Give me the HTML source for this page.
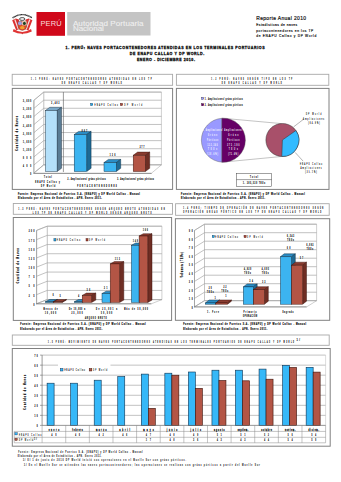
<!DOCTYPE html><html><head><meta charset="utf-8"><style>html,body{margin:0;padding:0;background:#fff;width:341px;height:482px;overflow:hidden}svg{display:block}</style></head><body>
<svg width="341" height="482" viewBox="0 0 341 482" font-family='"Liberation Sans", sans-serif'>
<rect x="0" y="0" width="341" height="482" fill="#fff" />
<g>
<path d="M12.6,17.9 Q22.3,11.3 32.0,17.9" fill="none" stroke="#2a2a2a" stroke-width="1.4" stroke-dasharray="1.0 0.3"/>
<path d="M12.2,20.2 L15.8,18.6 L18.9,19.6 L20.4,28.8 L16.2,30.6 Z" fill="#dc3030"/>
<path d="M14.2,19.7 L15.4,19.3 L19.0,29.2 L17.9,29.8 Z" fill="#f2dede"/>
<path d="M32.4,20.2 L28.8,18.6 L25.7,19.6 L24.2,28.8 L28.4,30.6 Z" fill="#dc3030"/>
<path d="M30.4,19.7 L29.2,19.3 L25.6,29.2 L26.7,29.8 Z" fill="#f2dede"/>
<path d="M13.6,29.0 Q22.3,35.0 31.0,29.0 L31.8,31.4 Q22.3,36.0 12.8,31.4 Z" fill="#e03535"/>
<ellipse cx="22.2" cy="19.0" rx="2.7" ry="1.45" fill="#f2f2f2" stroke="#222" stroke-width="0.75"/>
<path d="M18.0,21.2 L26.6,21.2 L26.6,26.6 Q26.3,30.2 22.3,30.4 Q18.3,30.2 18.0,26.6 Z" fill="#d84a28" stroke="#444" stroke-width="0.3"/>
<ellipse cx="20.0" cy="23.3" rx="2.0" ry="2.0" fill="#9aa0e0"/>
<rect x="22.3" y="21.3" width="4.2" height="4.0" fill="#eef0e0"/>
<ellipse cx="24.4" cy="23.4" rx="1.5" ry="1.6" fill="#1f3f1f"/>
<ellipse cx="22.3" cy="27.7" rx="2.3" ry="1.6" fill="#f0a030"/>
<circle cx="22.3" cy="33.6" r="0.6" fill="#cc2a2a"/>
</g>
<rect x="36.5" y="12" width="28.5" height="23.8" fill="#d0081a" />
<text transform="scale(1.1,1.0)" x="36.82" y="26.30" font-size="6.8" font-weight="normal" fill="#f8dcdc" text-anchor="start" textLength="19.18" lengthAdjust="spacing" >PERÚ</text>
<rect x="67.2" y="12" width="83.3" height="23.5" fill="#c4c4c4" />
<text transform="scale(1.28,1.0)" x="56.95" y="25.60" font-size="6.3" font-weight="normal" fill="#f0f0f0" text-anchor="start" textLength="55.23" lengthAdjust="spacing" stroke="#f0f0f0" stroke-width="0.08" >Autoridad Portuaria</text>
<text transform="scale(1.28,1.0)" x="56.95" y="31.50" font-size="6.3" font-weight="normal" fill="#f0f0f0" text-anchor="start" textLength="24.22" lengthAdjust="spacing" stroke="#f0f0f0" stroke-width="0.08" >Nacional</text>
<text transform="scale(0.8,1.0)" x="320.25" y="20.00" font-size="6.2" font-weight="normal" fill="#111" text-anchor="start" textLength="62.25" lengthAdjust="spacing" stroke="#111" stroke-width="0.22" >Reporte Anual 2010</text>
<text transform="scale(0.9,1.0)" x="284.67" y="26.50" font-size="3.6" font-weight="normal" fill="#000" text-anchor="start" textLength="45.56" lengthAdjust="spacing" stroke="#000" stroke-width="0.14" >Estadísticas de naves</text>
<text transform="scale(0.9,1.0)" x="284.67" y="32.10" font-size="3.6" font-weight="normal" fill="#000" text-anchor="start" textLength="63.33" lengthAdjust="spacing" stroke="#000" stroke-width="0.14" >portacontenedores en los TP</text>
<text transform="scale(0.9,1.0)" x="284.67" y="37.40" font-size="3.6" font-weight="normal" fill="#000" text-anchor="start" textLength="66.67" lengthAdjust="spacing" stroke="#000" stroke-width="0.14" >de ENAPU Callao y DP World</text>
<text transform="scale(0.95,1.0)" x="69.05" y="49.20" font-size="3.8" font-weight="bold" fill="#111" text-anchor="start" textLength="209.47" lengthAdjust="spacing" stroke="#111" stroke-width="0.3" >1. PERÚ: NAVES PORTACONTENEDORES ATENDIDAS EN LOS TERMINALES PORTUARIOS</text>
<text transform="scale(0.95,1.0)" x="136.53" y="55.10" font-size="3.8" font-weight="bold" fill="#111" text-anchor="start" textLength="78.42" lengthAdjust="spacing" stroke="#111" stroke-width="0.3" >DE ENAPU CALLAO Y DP WORLD.</text>
<text transform="scale(0.95,1.0)" x="144.11" y="61.00" font-size="3.8" font-weight="bold" fill="#111" text-anchor="start" textLength="61.05" lengthAdjust="spacing" stroke="#111" stroke-width="0.3" >ENERO - DICIEMBRE 2010.</text>
<rect x="12.2" y="74.3" width="160.4" height="11.0" fill="none" stroke="#a8a8a8" stroke-width="0.9" />
<text transform="scale(0.45,1.0)" x="68.89" y="79.70" font-size="2.8" font-weight="bold" fill="#111" text-anchor="start" textLength="267.78" lengthAdjust="spacing" stroke="#111" stroke-width="0.16" >1.1 PERÚ: NAVES PORTACONTENEDORES ATENDIDAS EN LOS TP</text>
<text transform="scale(0.45,1.0)" x="137.33" y="84.20" font-size="2.8" font-weight="bold" fill="#111" text-anchor="start" textLength="133.11" lengthAdjust="spacing" stroke="#111" stroke-width="0.16" >DE ENAPU CALLAO Y DP WORLD</text>
<rect x="12.3" y="88.4" width="160.29999999999998" height="101.0" fill="none" stroke="#808080" stroke-width="1.0" />
<polygon points="43.7,92.1 161.4,92.1 161.4,164.9 43.7,164.9" fill="#fff" stroke="#a0a0a0" stroke-width="0.5"/>
<polygon points="43.7,92.1 33.900000000000006,100.3 33.900000000000006,173.1 43.7,164.9" fill="#fff" stroke="#a0a0a0" stroke-width="0.5"/>
<polygon points="43.7,164.9 161.4,164.9 151.6,173.1 33.900000000000006,173.1" fill="#fff" stroke="#a0a0a0" stroke-width="0.5"/>
<line x1="43.7" y1="92.1" x2="161.4" y2="92.1" stroke="#a0a0a0" stroke-width="0.65"/>
<line x1="33.900000000000006" y1="100.3" x2="43.7" y2="92.1" stroke="#a0a0a0" stroke-width="0.65"/>
<text transform="scale(0.52,1.0)" x="60.00" y="102.30" font-size="3.0" font-weight="bold" fill="#111" text-anchor="end" textLength="15.96" lengthAdjust="spacing" stroke="#111" stroke-width="0.2" >3,600</text>
<line x1="43.7" y1="100.18888888888888" x2="161.4" y2="100.18888888888888" stroke="#a0a0a0" stroke-width="0.65"/>
<line x1="33.900000000000006" y1="108.38888888888889" x2="43.7" y2="100.18888888888888" stroke="#a0a0a0" stroke-width="0.65"/>
<text transform="scale(0.52,1.0)" x="60.00" y="110.39" font-size="3.0" font-weight="bold" fill="#111" text-anchor="end" textLength="15.96" lengthAdjust="spacing" stroke="#111" stroke-width="0.2" >3,200</text>
<line x1="43.7" y1="108.27777777777777" x2="161.4" y2="108.27777777777777" stroke="#a0a0a0" stroke-width="0.65"/>
<line x1="33.900000000000006" y1="116.47777777777777" x2="43.7" y2="108.27777777777777" stroke="#a0a0a0" stroke-width="0.65"/>
<text transform="scale(0.52,1.0)" x="60.00" y="118.48" font-size="3.0" font-weight="bold" fill="#111" text-anchor="end" textLength="15.96" lengthAdjust="spacing" stroke="#111" stroke-width="0.2" >2,800</text>
<line x1="43.7" y1="116.36666666666666" x2="161.4" y2="116.36666666666666" stroke="#a0a0a0" stroke-width="0.65"/>
<line x1="33.900000000000006" y1="124.56666666666666" x2="43.7" y2="116.36666666666666" stroke="#a0a0a0" stroke-width="0.65"/>
<text transform="scale(0.52,1.0)" x="60.00" y="126.57" font-size="3.0" font-weight="bold" fill="#111" text-anchor="end" textLength="15.96" lengthAdjust="spacing" stroke="#111" stroke-width="0.2" >2,400</text>
<line x1="43.7" y1="124.45555555555555" x2="161.4" y2="124.45555555555555" stroke="#a0a0a0" stroke-width="0.65"/>
<line x1="33.900000000000006" y1="132.65555555555554" x2="43.7" y2="124.45555555555555" stroke="#a0a0a0" stroke-width="0.65"/>
<text transform="scale(0.52,1.0)" x="60.00" y="134.66" font-size="3.0" font-weight="bold" fill="#111" text-anchor="end" textLength="15.96" lengthAdjust="spacing" stroke="#111" stroke-width="0.2" >2,000</text>
<line x1="43.7" y1="132.54444444444445" x2="161.4" y2="132.54444444444445" stroke="#a0a0a0" stroke-width="0.65"/>
<line x1="33.900000000000006" y1="140.74444444444444" x2="43.7" y2="132.54444444444445" stroke="#a0a0a0" stroke-width="0.65"/>
<text transform="scale(0.52,1.0)" x="60.00" y="142.74" font-size="3.0" font-weight="bold" fill="#111" text-anchor="end" textLength="15.96" lengthAdjust="spacing" stroke="#111" stroke-width="0.2" >1,600</text>
<line x1="43.7" y1="140.63333333333333" x2="161.4" y2="140.63333333333333" stroke="#a0a0a0" stroke-width="0.65"/>
<line x1="33.900000000000006" y1="148.83333333333331" x2="43.7" y2="140.63333333333333" stroke="#a0a0a0" stroke-width="0.65"/>
<text transform="scale(0.52,1.0)" x="60.00" y="150.83" font-size="3.0" font-weight="bold" fill="#111" text-anchor="end" textLength="15.96" lengthAdjust="spacing" stroke="#111" stroke-width="0.2" >1,200</text>
<line x1="43.7" y1="148.72222222222223" x2="161.4" y2="148.72222222222223" stroke="#a0a0a0" stroke-width="0.65"/>
<line x1="33.900000000000006" y1="156.92222222222222" x2="43.7" y2="148.72222222222223" stroke="#a0a0a0" stroke-width="0.65"/>
<text transform="scale(0.52,1.0)" x="60.00" y="158.92" font-size="3.0" font-weight="bold" fill="#111" text-anchor="end" textLength="15.96" lengthAdjust="spacing" stroke="#111" stroke-width="0.2" >800</text>
<line x1="43.7" y1="156.81111111111113" x2="161.4" y2="156.81111111111113" stroke="#a0a0a0" stroke-width="0.65"/>
<line x1="33.900000000000006" y1="165.01111111111112" x2="43.7" y2="156.81111111111113" stroke="#a0a0a0" stroke-width="0.65"/>
<text transform="scale(0.52,1.0)" x="60.00" y="167.01" font-size="3.0" font-weight="bold" fill="#111" text-anchor="end" textLength="15.96" lengthAdjust="spacing" stroke="#111" stroke-width="0.2" >400</text>
<line x1="43.7" y1="164.9" x2="161.4" y2="164.9" stroke="#a0a0a0" stroke-width="0.65"/>
<line x1="33.900000000000006" y1="173.1" x2="43.7" y2="164.9" stroke="#a0a0a0" stroke-width="0.65"/>
<text transform="scale(0.52,1.0)" x="60.00" y="175.10" font-size="3.0" font-weight="bold" fill="#111" text-anchor="end" textLength="15.96" lengthAdjust="spacing" stroke="#111" stroke-width="0.2" >0</text>
<line x1="33.900000000000006" y1="100.3" x2="33.900000000000006" y2="173.1" stroke="#888" stroke-width="0.6"/>
<line x1="33.400000000000006" y1="173.5" x2="151.6" y2="173.5" stroke="#666" stroke-width="0.6"/>
<line x1="63.4" y1="92.1" x2="63.4" y2="172" stroke="#555" stroke-width="0.6"/>
<g transform="rotate(-90 17.7 133.5)"><text transform="scale(0.75,1.0)" x="23.60" y="133.50" font-size="2.8" font-weight="bold" fill="#111" text-anchor="middle" textLength="46.27" lengthAdjust="spacing" stroke="#111" stroke-width="0.2" >Cantidad de Naves</text></g>
<rect x="90.6" y="103.4" width="2.2" height="2.2" fill="#2aa6e8" stroke="#0a3a5a" stroke-width="0.4"/>
<text transform="scale(0.52,1.0)" x="181.54" y="105.60" font-size="3.0" font-weight="normal" fill="#111" text-anchor="start" textLength="45.00" lengthAdjust="spacing" stroke="#111" stroke-width="0.15" >ENAPU Callao</text>
<rect x="120.4" y="103.4" width="2.2" height="2.2" fill="#b04a3a" stroke="#3a0a0a" stroke-width="0.4"/>
<text transform="scale(0.52,1.0)" x="238.85" y="105.60" font-size="3.0" font-weight="normal" fill="#111" text-anchor="start" textLength="34.62" lengthAdjust="spacing" stroke="#111" stroke-width="0.15" >DP World</text>
<polygon points="45.4,110.5 49.8,107.3 61.5,107.3 57.1,110.5" fill="#7aa8c8" stroke="#1a3040" stroke-width="0.45"/>
<polygon points="57.1,110.5 61.5,107.3 61.5,168.3 57.1,171.5" fill="#5a7c94" stroke="#1a3040" stroke-width="0.45"/>
<rect x="45.4" y="110.5" width="11.700000000000003" height="61.0" fill="#b4e0fa" stroke="#1a3040" stroke-width="0.45"/>
<polygon points="74.2,134.6 78.60000000000001,131.4 91.10000000000001,131.4 86.7,134.6" fill="#2a8cc4" stroke="#0a2a40" stroke-width="0.45"/>
<polygon points="86.7,134.6 91.10000000000001,131.4 91.10000000000001,168.3 86.7,171.5" fill="#1e6a94" stroke="#0a2a40" stroke-width="0.45"/>
<rect x="74.2" y="134.6" width="12.5" height="36.900000000000006" fill="#3cb4f0" stroke="#0a2a40" stroke-width="0.45"/>
<polygon points="104,162.6 108.4,159.4 120.7,159.4 116.3,162.6" fill="#2a8cc4" stroke="#0a2a40" stroke-width="0.45"/>
<polygon points="116.3,162.6 120.7,159.4 120.7,168.3 116.3,171.5" fill="#1e6a94" stroke="#0a2a40" stroke-width="0.45"/>
<rect x="104" y="162.6" width="12.299999999999997" height="8.900000000000006" fill="#3cb4f0" stroke="#0a2a40" stroke-width="0.45"/>
<polygon points="133.2,155.3 137.6,152.10000000000002 149.70000000000002,152.10000000000002 145.3,155.3" fill="#8a3c30" stroke="#3a1008" stroke-width="0.45"/>
<polygon points="145.3,155.3 149.70000000000002,152.10000000000002 149.70000000000002,168.3 145.3,171.5" fill="#6e2e24" stroke="#3a1008" stroke-width="0.45"/>
<rect x="133.2" y="155.3" width="12.100000000000023" height="16.19999999999999" fill="#b35545" stroke="#3a1008" stroke-width="0.45"/>
<text transform="scale(0.52,1.0)" x="106.35" y="104.00" font-size="2.8" font-weight="bold" fill="#111" text-anchor="middle" textLength="15.38" lengthAdjust="spacing" stroke="#111" stroke-width="0.2" >3,483</text>
<text transform="scale(0.52,1.0)" x="162.31" y="131.60" font-size="2.8" font-weight="bold" fill="#111" text-anchor="middle" textLength="10.19" lengthAdjust="spacing" stroke="#111" stroke-width="0.2" >887</text>
<text transform="scale(0.52,1.0)" x="216.35" y="156.50" font-size="2.8" font-weight="bold" fill="#111" text-anchor="middle" textLength="10.38" lengthAdjust="spacing" stroke="#111" stroke-width="0.2" >136</text>
<text transform="scale(0.52,1.0)" x="273.08" y="147.60" font-size="2.8" font-weight="bold" fill="#111" text-anchor="middle" textLength="8.65" lengthAdjust="spacing" stroke="#111" stroke-width="0.2" >277</text>
<text transform="scale(0.52,1.0)" x="92.12" y="178.00" font-size="2.8" font-weight="bold" fill="#111" text-anchor="middle" textLength="14.62" lengthAdjust="spacing" stroke="#111" stroke-width="0.2" >Total</text>
<text transform="scale(0.52,1.0)" x="91.54" y="183.00" font-size="2.8" font-weight="bold" fill="#111" text-anchor="middle" textLength="47.31" lengthAdjust="spacing" stroke="#111" stroke-width="0.2" >ENAPU Callao y</text>
<text transform="scale(0.52,1.0)" x="92.50" y="187.00" font-size="2.8" font-weight="bold" fill="#111" text-anchor="middle" textLength="27.12" lengthAdjust="spacing" stroke="#111" stroke-width="0.2" >DP World</text>
<text transform="scale(0.52,1.0)" x="166.35" y="180.20" font-size="2.8" font-weight="bold" fill="#111" text-anchor="middle" textLength="72.88" lengthAdjust="spacing" stroke="#111" stroke-width="0.2" >2. Ampliaciones/ grúas pórticos</text>
<text transform="scale(0.52,1.0)" x="260.58" y="180.20" font-size="2.8" font-weight="bold" fill="#111" text-anchor="middle" textLength="70.38" lengthAdjust="spacing" stroke="#111" stroke-width="0.2" >3. Ampliaciones/ grúas pórticos</text>
<text transform="scale(0.52,1.0)" x="186.54" y="187.10" font-size="2.8" font-weight="bold" fill="#111" text-anchor="middle" textLength="76.15" lengthAdjust="spacing" stroke="#111" stroke-width="0.2" >PORTACONTENEDORES</text>
<rect x="176.4" y="74.3" width="152.4" height="11.0" fill="none" stroke="#a8a8a8" stroke-width="0.9" />
<text transform="scale(0.45,1.0)" x="559.33" y="79.70" font-size="2.8" font-weight="bold" fill="#111" text-anchor="middle" textLength="180.00" lengthAdjust="spacing" stroke="#111" stroke-width="0.16" >1.2 PERÚ: NAVES SEGÚN TIPO EN LOS TP</text>
<text transform="scale(0.45,1.0)" x="559.33" y="84.40" font-size="2.8" font-weight="bold" fill="#111" text-anchor="middle" textLength="133.33" lengthAdjust="spacing" stroke="#111" stroke-width="0.16" >DE ENAPU CALLAO Y DP WORLD</text>
<rect x="176.4" y="88.4" width="152.6" height="101.0" fill="none" stroke="#808080" stroke-width="1.0" />
<rect x="201.5" y="97.3" width="2.2" height="2.2" fill="#9999ff" stroke="#223" stroke-width="0.35"/>
<text transform="scale(0.52,1.0)" x="393.85" y="99.60" font-size="3.0" font-weight="bold" fill="#111" text-anchor="start" textLength="72.69" lengthAdjust="spacing" stroke="#111" stroke-width="0.15" >1. Ampliaciones/ grúas pórticos</text>
<rect x="201.5" y="103.6" width="2.2" height="2.2" fill="#660066" stroke="#202" stroke-width="0.35"/>
<text transform="scale(0.52,1.0)" x="393.85" y="105.90" font-size="3.0" font-weight="bold" fill="#111" text-anchor="start" textLength="72.69" lengthAdjust="spacing" stroke="#111" stroke-width="0.15" >2. Ampliaciones/ grúas pórticos</text>
<line x1="222.0" y1="118.2" x2="281.5" y2="123.6" stroke="#888" stroke-width="0.5"/>
<line x1="222.0" y1="162.2" x2="281.5" y2="156.5" stroke="#888" stroke-width="0.5"/>
<path d="M221.9,118.24999999999999 A22,22 0 0 0 221.9,162.14999999999998 Z" fill="#9999ff" stroke="#555" stroke-width="0.4"/>
<path d="M221.9,118.24999999999999 A22,22 0 1 1 221.9,162.14999999999998 Z" fill="#660066" stroke="#555" stroke-width="0.4"/>
<text transform="scale(0.52,1.0)" x="408.65" y="130.80" font-size="2.8" font-weight="bold" fill="#fff" text-anchor="middle" textLength="38.46" lengthAdjust="spacing" stroke="#fff" stroke-width="0.05" >1. Ampliaciones/</text>
<text transform="scale(0.52,1.0)" x="448.46" y="130.80" font-size="2.8" font-weight="bold" fill="#fff" text-anchor="middle" textLength="34.62" lengthAdjust="spacing" stroke="#fff" stroke-width="0.05" >Ampliaciones/</text>
<text transform="scale(0.52,1.0)" x="408.65" y="135.60" font-size="2.8" font-weight="bold" fill="#fff" text-anchor="middle" textLength="17.31" lengthAdjust="spacing" stroke="#fff" stroke-width="0.05" >Grúas</text>
<text transform="scale(0.52,1.0)" x="448.46" y="135.60" font-size="2.8" font-weight="bold" fill="#fff" text-anchor="middle" textLength="19.23" lengthAdjust="spacing" stroke="#fff" stroke-width="0.05" >Grúas</text>
<text transform="scale(0.52,1.0)" x="408.65" y="141.30" font-size="2.8" font-weight="bold" fill="#fff" text-anchor="middle" textLength="21.15" lengthAdjust="spacing" stroke="#fff" stroke-width="0.05" >Pórticos</text>
<text transform="scale(0.52,1.0)" x="448.46" y="141.30" font-size="2.8" font-weight="bold" fill="#fff" text-anchor="middle" textLength="23.08" lengthAdjust="spacing" stroke="#fff" stroke-width="0.05" >Pórticos</text>
<text transform="scale(0.52,1.0)" x="408.65" y="145.60" font-size="2.8" font-weight="bold" fill="#fff" text-anchor="middle" textLength="19.23" lengthAdjust="spacing" stroke="#fff" stroke-width="0.05" >112,340</text>
<text transform="scale(0.52,1.0)" x="448.46" y="145.60" font-size="2.8" font-weight="bold" fill="#fff" text-anchor="middle" textLength="23.08" lengthAdjust="spacing" stroke="#fff" stroke-width="0.05" >273,190</text>
<text transform="scale(0.52,1.0)" x="408.65" y="150.40" font-size="2.8" font-weight="bold" fill="#fff" text-anchor="middle" textLength="17.31" lengthAdjust="spacing" stroke="#fff" stroke-width="0.05" >TEUs</text>
<text transform="scale(0.52,1.0)" x="448.46" y="150.40" font-size="2.8" font-weight="bold" fill="#fff" text-anchor="middle" textLength="17.31" lengthAdjust="spacing" stroke="#fff" stroke-width="0.05" >TEUs</text>
<text transform="scale(0.52,1.0)" x="408.65" y="155.30" font-size="2.8" font-weight="bold" fill="#fff" text-anchor="middle" textLength="21.15" lengthAdjust="spacing" stroke="#fff" stroke-width="0.05" >(28.6%)</text>
<text transform="scale(0.52,1.0)" x="448.46" y="155.30" font-size="2.8" font-weight="bold" fill="#fff" text-anchor="middle" textLength="19.23" lengthAdjust="spacing" stroke="#fff" stroke-width="0.05" >(71.4%)</text>
<circle cx="282.4" cy="140.0" r="16.5" fill="#a8506a" stroke="#333" stroke-width="0.5"/>
<path d="M282.4,140.0 L295.92,130.54 A16.5,16.5 0 0 1 281.82,156.49 Z" fill="#33bbff" stroke="#333" stroke-width="0.5"/>
<line x1="293.6" y1="126.9" x2="303.1" y2="119.6" stroke="#444" stroke-width="0.4"/>
<line x1="295.1" y1="152.4" x2="303.1" y2="161.1" stroke="#444" stroke-width="0.4"/>
<text transform="scale(0.52,1.0)" x="603.08" y="115.50" font-size="2.8" font-weight="normal" fill="#111" text-anchor="middle" textLength="29.42" lengthAdjust="spacing" stroke="#111" stroke-width="0.15" >DP World</text>
<text transform="scale(0.52,1.0)" x="603.08" y="119.90" font-size="2.8" font-weight="normal" fill="#111" text-anchor="middle" textLength="40.38" lengthAdjust="spacing" stroke="#111" stroke-width="0.15" >Ampliaciones</text>
<text transform="scale(0.52,1.0)" x="603.85" y="123.90" font-size="2.8" font-weight="normal" fill="#111" text-anchor="middle" textLength="22.31" lengthAdjust="spacing" stroke="#111" stroke-width="0.15" >(64.9%)</text>
<text transform="scale(0.52,1.0)" x="598.08" y="164.60" font-size="2.8" font-weight="normal" fill="#111" text-anchor="middle" textLength="42.31" lengthAdjust="spacing" stroke="#111" stroke-width="0.15" >ENAPU Callao</text>
<text transform="scale(0.52,1.0)" x="598.08" y="168.60" font-size="2.8" font-weight="normal" fill="#111" text-anchor="middle" textLength="40.38" lengthAdjust="spacing" stroke="#111" stroke-width="0.15" >Ampliaciones</text>
<text transform="scale(0.52,1.0)" x="598.08" y="173.00" font-size="2.8" font-weight="normal" fill="#111" text-anchor="middle" textLength="22.31" lengthAdjust="spacing" stroke="#111" stroke-width="0.15" >(35.1%)</text>
<rect x="236.4" y="173.6" width="35.29999999999998" height="13.0" fill="none" stroke="#444" stroke-width="0.5" />
<line x1="236.4" y1="179.6" x2="271.7" y2="179.6" stroke="#444" stroke-width="0.5"/>
<text transform="scale(0.52,1.0)" x="488.46" y="177.90" font-size="2.8" font-weight="bold" fill="#111" text-anchor="middle" textLength="15.38" lengthAdjust="spacing" stroke="#111" stroke-width="0.2" >Total</text>
<text transform="scale(0.52,1.0)" x="488.46" y="184.20" font-size="2.8" font-weight="bold" fill="#111" text-anchor="middle" textLength="42.31" lengthAdjust="spacing" stroke="#111" stroke-width="0.2" >1. 385,530 TEUs</text>
<text transform="scale(0.75,1.0)" x="23.87" y="194.60" font-size="2.7" font-weight="bold" fill="#111" text-anchor="start" textLength="162.67" lengthAdjust="spacing" stroke="#111" stroke-width="0.18" >Fuente: Empresa Nacional de Puertos S.A. (ENAPU) y DP World Callao - Manual</text>
<text transform="scale(0.75,1.0)" x="23.87" y="198.70" font-size="2.7" font-weight="bold" fill="#111" text-anchor="start" textLength="112.00" lengthAdjust="spacing" stroke="#111" stroke-width="0.18" >Elaborado por el Área de Estadística - APN. Enero 2011.</text>
<text transform="scale(0.75,1.0)" x="241.47" y="194.60" font-size="2.7" font-weight="bold" fill="#111" text-anchor="start" textLength="164.80" lengthAdjust="spacing" stroke="#111" stroke-width="0.18" >Fuente: Empresa Nacional de Puertos S.A. (ENAPU) y DP World Callao - Manual</text>
<text transform="scale(0.75,1.0)" x="241.47" y="198.70" font-size="2.7" font-weight="bold" fill="#111" text-anchor="start" textLength="112.00" lengthAdjust="spacing" stroke="#111" stroke-width="0.18" >Elaborado por el Área de Estadística - APN. Enero 2011.</text>
<rect x="13.3" y="203.5" width="159.2" height="10.800000000000011" fill="none" stroke="#a8a8a8" stroke-width="0.9" />
<text transform="scale(0.45,1.0)" x="203.44" y="209.80" font-size="2.8" font-weight="bold" fill="#111" text-anchor="middle" textLength="324.44" lengthAdjust="spacing" stroke="#111" stroke-width="0.16" >1.3 PERÚ: NAVES PORTACONTENEDORES SEGÚN ARQUEO BRUTO ATENDIDAS EN</text>
<text transform="scale(0.45,1.0)" x="204.89" y="214.00" font-size="2.8" font-weight="bold" fill="#111" text-anchor="middle" textLength="263.78" lengthAdjust="spacing" stroke="#111" stroke-width="0.16" >LOS TP DE ENAPU CALLAO Y DP WORLD SEGÚN ARQUEO BRUTO</text>
<rect x="13.3" y="217.5" width="158.29999999999998" height="102.89999999999998" fill="none" stroke="#808080" stroke-width="1.0" />
<polygon points="47.2,226.2 161.9,226.2 161.9,299.6 47.2,299.6" fill="#fff" stroke="#a0a0a0" stroke-width="0.5"/>
<polygon points="47.2,226.2 36.6,230.39999999999998 36.6,303.8 47.2,299.6" fill="#fff" stroke="#a0a0a0" stroke-width="0.5"/>
<polygon points="47.2,299.6 161.9,299.6 151.3,303.8 36.6,303.8" fill="#fff" stroke="#a0a0a0" stroke-width="0.5"/>
<line x1="47.2" y1="226.2" x2="161.9" y2="226.2" stroke="#a0a0a0" stroke-width="0.65"/>
<line x1="36.6" y1="230.39999999999998" x2="47.2" y2="226.2" stroke="#a0a0a0" stroke-width="0.65"/>
<text transform="scale(0.52,1.0)" x="65.96" y="232.40" font-size="3.0" font-weight="bold" fill="#111" text-anchor="end" textLength="10.77" lengthAdjust="spacing" stroke="#111" stroke-width="0.2" >200</text>
<line x1="47.2" y1="235.375" x2="161.9" y2="235.375" stroke="#a0a0a0" stroke-width="0.65"/>
<line x1="36.6" y1="239.575" x2="47.2" y2="235.375" stroke="#a0a0a0" stroke-width="0.65"/>
<text transform="scale(0.52,1.0)" x="65.96" y="241.57" font-size="3.0" font-weight="bold" fill="#111" text-anchor="end" textLength="10.77" lengthAdjust="spacing" stroke="#111" stroke-width="0.2" >175</text>
<line x1="47.2" y1="244.55" x2="161.9" y2="244.55" stroke="#a0a0a0" stroke-width="0.65"/>
<line x1="36.6" y1="248.75" x2="47.2" y2="244.55" stroke="#a0a0a0" stroke-width="0.65"/>
<text transform="scale(0.52,1.0)" x="65.96" y="250.75" font-size="3.0" font-weight="bold" fill="#111" text-anchor="end" textLength="10.77" lengthAdjust="spacing" stroke="#111" stroke-width="0.2" >150</text>
<line x1="47.2" y1="253.725" x2="161.9" y2="253.725" stroke="#a0a0a0" stroke-width="0.65"/>
<line x1="36.6" y1="257.925" x2="47.2" y2="253.725" stroke="#a0a0a0" stroke-width="0.65"/>
<text transform="scale(0.52,1.0)" x="65.96" y="259.93" font-size="3.0" font-weight="bold" fill="#111" text-anchor="end" textLength="10.77" lengthAdjust="spacing" stroke="#111" stroke-width="0.2" >125</text>
<line x1="47.2" y1="262.9" x2="161.9" y2="262.9" stroke="#a0a0a0" stroke-width="0.65"/>
<line x1="36.6" y1="267.09999999999997" x2="47.2" y2="262.9" stroke="#a0a0a0" stroke-width="0.65"/>
<text transform="scale(0.52,1.0)" x="65.96" y="269.10" font-size="3.0" font-weight="bold" fill="#111" text-anchor="end" textLength="10.77" lengthAdjust="spacing" stroke="#111" stroke-width="0.2" >100</text>
<line x1="47.2" y1="272.075" x2="161.9" y2="272.075" stroke="#a0a0a0" stroke-width="0.65"/>
<line x1="36.6" y1="276.275" x2="47.2" y2="272.075" stroke="#a0a0a0" stroke-width="0.65"/>
<text transform="scale(0.52,1.0)" x="65.96" y="278.27" font-size="3.0" font-weight="bold" fill="#111" text-anchor="end" textLength="10.77" lengthAdjust="spacing" stroke="#111" stroke-width="0.2" >75</text>
<line x1="47.2" y1="281.25" x2="161.9" y2="281.25" stroke="#a0a0a0" stroke-width="0.65"/>
<line x1="36.6" y1="285.45" x2="47.2" y2="281.25" stroke="#a0a0a0" stroke-width="0.65"/>
<text transform="scale(0.52,1.0)" x="65.96" y="287.45" font-size="3.0" font-weight="bold" fill="#111" text-anchor="end" textLength="10.77" lengthAdjust="spacing" stroke="#111" stroke-width="0.2" >50</text>
<line x1="47.2" y1="290.425" x2="161.9" y2="290.425" stroke="#a0a0a0" stroke-width="0.65"/>
<line x1="36.6" y1="294.625" x2="47.2" y2="290.425" stroke="#a0a0a0" stroke-width="0.65"/>
<text transform="scale(0.52,1.0)" x="65.96" y="296.62" font-size="3.0" font-weight="bold" fill="#111" text-anchor="end" textLength="10.77" lengthAdjust="spacing" stroke="#111" stroke-width="0.2" >25</text>
<line x1="47.2" y1="299.6" x2="161.9" y2="299.6" stroke="#a0a0a0" stroke-width="0.65"/>
<line x1="36.6" y1="303.8" x2="47.2" y2="299.6" stroke="#a0a0a0" stroke-width="0.65"/>
<text transform="scale(0.52,1.0)" x="65.96" y="305.80" font-size="3.0" font-weight="bold" fill="#111" text-anchor="end" textLength="10.77" lengthAdjust="spacing" stroke="#111" stroke-width="0.2" >0</text>
<line x1="36.6" y1="230.39999999999998" x2="36.6" y2="303.8" stroke="#888" stroke-width="0.6"/>
<line x1="36.1" y1="303.8" x2="151.3" y2="303.8" stroke="#666" stroke-width="0.6"/>
<g transform="rotate(-90 19.5 265.7)"><text transform="scale(0.75,1.0)" x="26.00" y="265.70" font-size="2.8" font-weight="bold" fill="#111" text-anchor="middle" textLength="46.67" lengthAdjust="spacing" stroke="#111" stroke-width="0.2" >Cantidad de Naves</text></g>
<rect x="53.9" y="238.6" width="2.0" height="2.4" fill="#2aa6e8" stroke="#0a3a5a" stroke-width="0.4"/>
<text transform="scale(0.52,1.0)" x="109.04" y="241.00" font-size="3.0" font-weight="normal" fill="#111" text-anchor="start" textLength="44.81" lengthAdjust="spacing" stroke="#111" stroke-width="0.15" >ENAPU Callao</text>
<rect x="86.0" y="238.6" width="2.0" height="2.4" fill="#b04a3a" stroke="#3a0a0a" stroke-width="0.4"/>
<text transform="scale(0.52,1.0)" x="171.15" y="241.00" font-size="3.0" font-weight="normal" fill="#111" text-anchor="start" textLength="30.58" lengthAdjust="spacing" stroke="#111" stroke-width="0.15" >DP World</text>
<polygon points="45.3,301.8 49.5,299.5 57.400000000000006,299.5 53.2,301.8" fill="#2a8cc4" stroke="#0a2a40" stroke-width="0.45"/>
<polygon points="53.2,301.8 57.400000000000006,299.5 57.400000000000006,300.09999999999997 53.2,302.4" fill="#1e6a94" stroke="#0a2a40" stroke-width="0.45"/>
<rect x="45.3" y="301.8" width="7.900000000000006" height="0.5999999999999659" fill="#3cb4f0" stroke="#0a2a40" stroke-width="0.45"/>
<polygon points="53.2,301.8 57.400000000000006,299.5 66.4,299.5 62.2,301.8" fill="#8a3c30" stroke="#3a1008" stroke-width="0.45"/>
<polygon points="62.2,301.8 66.4,299.5 66.4,300.09999999999997 62.2,302.4" fill="#6e2e24" stroke="#3a1008" stroke-width="0.45"/>
<rect x="53.2" y="301.8" width="9.0" height="0.5999999999999659" fill="#b35545" stroke="#3a1008" stroke-width="0.45"/>
<polygon points="74.3,301.8 78.5,299.5 86.4,299.5 82.2,301.8" fill="#2a8cc4" stroke="#0a2a40" stroke-width="0.45"/>
<polygon points="82.2,301.8 86.4,299.5 86.4,300.09999999999997 82.2,302.4" fill="#1e6a94" stroke="#0a2a40" stroke-width="0.45"/>
<rect x="74.3" y="301.8" width="7.900000000000006" height="0.5999999999999659" fill="#3cb4f0" stroke="#0a2a40" stroke-width="0.45"/>
<polygon points="82.2,295.4 86.4,293.09999999999997 95.8,293.09999999999997 91.6,295.4" fill="#8a3c30" stroke="#3a1008" stroke-width="0.45"/>
<polygon points="91.6,295.4 95.8,293.09999999999997 95.8,300.09999999999997 91.6,302.4" fill="#6e2e24" stroke="#3a1008" stroke-width="0.45"/>
<rect x="82.2" y="295.4" width="9.399999999999991" height="7.0" fill="#b35545" stroke="#3a1008" stroke-width="0.45"/>
<polygon points="102.0,293.5 106.2,291.2 114.4,291.2 110.2,293.5" fill="#2a8cc4" stroke="#0a2a40" stroke-width="0.45"/>
<polygon points="110.2,293.5 114.4,291.2 114.4,300.09999999999997 110.2,302.4" fill="#1e6a94" stroke="#0a2a40" stroke-width="0.45"/>
<rect x="102.0" y="293.5" width="8.200000000000003" height="8.899999999999977" fill="#3cb4f0" stroke="#0a2a40" stroke-width="0.45"/>
<polygon points="110.2,263.9 114.4,261.59999999999997 123.8,261.59999999999997 119.6,263.9" fill="#8a3c30" stroke="#3a1008" stroke-width="0.45"/>
<polygon points="119.6,263.9 123.8,261.59999999999997 123.8,300.09999999999997 119.6,302.4" fill="#6e2e24" stroke="#3a1008" stroke-width="0.45"/>
<rect x="110.2" y="263.9" width="9.399999999999991" height="38.5" fill="#b35545" stroke="#3a1008" stroke-width="0.45"/>
<polygon points="131.4,245.3 135.6,243.0 143.29999999999998,243.0 139.1,245.3" fill="#2a8cc4" stroke="#0a2a40" stroke-width="0.45"/>
<polygon points="139.1,245.3 143.29999999999998,243.0 143.29999999999998,300.09999999999997 139.1,302.4" fill="#1e6a94" stroke="#0a2a40" stroke-width="0.45"/>
<rect x="131.4" y="245.3" width="7.699999999999989" height="57.099999999999966" fill="#3cb4f0" stroke="#0a2a40" stroke-width="0.45"/>
<polygon points="139.1,236.0 143.29999999999998,233.7 152.0,233.7 147.8,236.0" fill="#8a3c30" stroke="#3a1008" stroke-width="0.45"/>
<polygon points="147.8,236.0 152.0,233.7 152.0,300.09999999999997 147.8,302.4" fill="#6e2e24" stroke="#3a1008" stroke-width="0.45"/>
<rect x="139.1" y="236.0" width="8.700000000000017" height="66.39999999999998" fill="#b35545" stroke="#3a1008" stroke-width="0.45"/>
<text transform="scale(0.52,1.0)" x="102.31" y="296.40" font-size="2.8" font-weight="bold" fill="#111" text-anchor="middle" textLength="3.08" lengthAdjust="spacing" stroke="#111" stroke-width="0.2" >6</text>
<text transform="scale(0.52,1.0)" x="115.77" y="297.40" font-size="2.8" font-weight="bold" fill="#111" text-anchor="middle" textLength="3.08" lengthAdjust="spacing" stroke="#111" stroke-width="0.2" >5</text>
<text transform="scale(0.52,1.0)" x="151.35" y="297.00" font-size="2.8" font-weight="bold" fill="#111" text-anchor="middle" textLength="3.08" lengthAdjust="spacing" stroke="#111" stroke-width="0.2" >4</text>
<text transform="scale(0.52,1.0)" x="170.00" y="290.60" font-size="2.8" font-weight="bold" fill="#111" text-anchor="middle" textLength="6.15" lengthAdjust="spacing" stroke="#111" stroke-width="0.2" >36</text>
<text transform="scale(0.52,1.0)" x="203.08" y="289.20" font-size="2.8" font-weight="bold" fill="#111" text-anchor="middle" textLength="6.15" lengthAdjust="spacing" stroke="#111" stroke-width="0.2" >31</text>
<text transform="scale(0.52,1.0)" x="225.58" y="260.20" font-size="2.8" font-weight="bold" fill="#111" text-anchor="middle" textLength="9.23" lengthAdjust="spacing" stroke="#111" stroke-width="0.2" >113</text>
<text transform="scale(0.52,1.0)" x="260.58" y="242.20" font-size="2.8" font-weight="bold" fill="#111" text-anchor="middle" textLength="9.23" lengthAdjust="spacing" stroke="#111" stroke-width="0.2" >149</text>
<text transform="scale(0.52,1.0)" x="279.62" y="231.40" font-size="2.8" font-weight="bold" fill="#111" text-anchor="middle" textLength="9.23" lengthAdjust="spacing" stroke="#111" stroke-width="0.2" >166</text>
<text transform="scale(0.52,1.0)" x="97.12" y="310.00" font-size="2.8" font-weight="bold" fill="#111" text-anchor="middle" textLength="26.92" lengthAdjust="spacing" stroke="#111" stroke-width="0.2" >Menos de</text>
<text transform="scale(0.52,1.0)" x="97.12" y="314.40" font-size="2.8" font-weight="bold" fill="#111" text-anchor="middle" textLength="21.15" lengthAdjust="spacing" stroke="#111" stroke-width="0.2" >10,000</text>
<text transform="scale(0.52,1.0)" x="148.08" y="310.00" font-size="2.8" font-weight="bold" fill="#111" text-anchor="middle" textLength="30.77" lengthAdjust="spacing" stroke="#111" stroke-width="0.2" >De 10,000 a</text>
<text transform="scale(0.52,1.0)" x="148.08" y="314.40" font-size="2.8" font-weight="bold" fill="#111" text-anchor="middle" textLength="21.15" lengthAdjust="spacing" stroke="#111" stroke-width="0.2" >25,000</text>
<text transform="scale(0.52,1.0)" x="205.00" y="310.00" font-size="2.8" font-weight="bold" fill="#111" text-anchor="middle" textLength="40.38" lengthAdjust="spacing" stroke="#111" stroke-width="0.2" >De 25,001 a</text>
<text transform="scale(0.52,1.0)" x="205.00" y="314.40" font-size="2.8" font-weight="bold" fill="#111" text-anchor="middle" textLength="21.15" lengthAdjust="spacing" stroke="#111" stroke-width="0.2" >50,000</text>
<text transform="scale(0.52,1.0)" x="261.54" y="310.00" font-size="2.8" font-weight="bold" fill="#111" text-anchor="middle" textLength="45.19" lengthAdjust="spacing" stroke="#111" stroke-width="0.2" >Más de 50,000</text>
<text transform="scale(0.52,1.0)" x="184.23" y="318.90" font-size="2.8" font-weight="bold" fill="#111" text-anchor="middle" textLength="41.92" lengthAdjust="spacing" stroke="#111" stroke-width="0.2" >ARQUEO BRUTO</text>
<rect x="175.6" y="203.7" width="153.6" height="11.600000000000023" fill="none" stroke="#a8a8a8" stroke-width="0.9" />
<text transform="scale(0.45,1.0)" x="407.11" y="208.90" font-size="2.8" font-weight="bold" fill="#111" text-anchor="start" textLength="311.11" lengthAdjust="spacing" stroke="#111" stroke-width="0.16" >1.4 PERÚ: TIEMPO DE OPERACIÓN DE NAVES PORTACONTENEDORES SEGÚN</text>
<text transform="scale(0.45,1.0)" x="407.11" y="213.30" font-size="2.8" font-weight="bold" fill="#111" text-anchor="start" textLength="306.67" lengthAdjust="spacing" stroke="#111" stroke-width="0.16" >OPERACIÓN GRÚAS PÓRTICO EN LOS TP DE ENAPU CALLAO Y DP WORLD</text>
<rect x="175.4" y="218.7" width="154.29999999999998" height="101.60000000000002" fill="none" stroke="#808080" stroke-width="1.0" />
<polygon points="204.5,224.2 316.6,224.2 316.6,300.7 204.5,300.7" fill="#fff" stroke="#a0a0a0" stroke-width="0.5"/>
<polygon points="204.5,224.2 194.5,230.39999999999998 194.5,306.9 204.5,300.7" fill="#fff" stroke="#a0a0a0" stroke-width="0.5"/>
<polygon points="204.5,300.7 316.6,300.7 306.6,306.9 194.5,306.9" fill="#fff" stroke="#a0a0a0" stroke-width="0.5"/>
<line x1="204.5" y1="224.2" x2="316.6" y2="224.2" stroke="#a0a0a0" stroke-width="0.65"/>
<line x1="194.5" y1="230.39999999999998" x2="204.5" y2="224.2" stroke="#a0a0a0" stroke-width="0.65"/>
<text transform="scale(0.52,1.0)" x="370.38" y="232.40" font-size="3.0" font-weight="bold" fill="#111" text-anchor="end" textLength="6.92" lengthAdjust="spacing" stroke="#111" stroke-width="0.2" >90</text>
<line x1="204.5" y1="232.7" x2="316.6" y2="232.7" stroke="#a0a0a0" stroke-width="0.65"/>
<line x1="194.5" y1="238.89999999999998" x2="204.5" y2="232.7" stroke="#a0a0a0" stroke-width="0.65"/>
<text transform="scale(0.52,1.0)" x="370.38" y="240.90" font-size="3.0" font-weight="bold" fill="#111" text-anchor="end" textLength="6.92" lengthAdjust="spacing" stroke="#111" stroke-width="0.2" >80</text>
<line x1="204.5" y1="241.2" x2="316.6" y2="241.2" stroke="#a0a0a0" stroke-width="0.65"/>
<line x1="194.5" y1="247.39999999999998" x2="204.5" y2="241.2" stroke="#a0a0a0" stroke-width="0.65"/>
<text transform="scale(0.52,1.0)" x="370.38" y="249.40" font-size="3.0" font-weight="bold" fill="#111" text-anchor="end" textLength="6.92" lengthAdjust="spacing" stroke="#111" stroke-width="0.2" >70</text>
<line x1="204.5" y1="249.7" x2="316.6" y2="249.7" stroke="#a0a0a0" stroke-width="0.65"/>
<line x1="194.5" y1="255.89999999999998" x2="204.5" y2="249.7" stroke="#a0a0a0" stroke-width="0.65"/>
<text transform="scale(0.52,1.0)" x="370.38" y="257.90" font-size="3.0" font-weight="bold" fill="#111" text-anchor="end" textLength="6.92" lengthAdjust="spacing" stroke="#111" stroke-width="0.2" >60</text>
<line x1="204.5" y1="258.2" x2="316.6" y2="258.2" stroke="#a0a0a0" stroke-width="0.65"/>
<line x1="194.5" y1="264.4" x2="204.5" y2="258.2" stroke="#a0a0a0" stroke-width="0.65"/>
<text transform="scale(0.52,1.0)" x="370.38" y="266.40" font-size="3.0" font-weight="bold" fill="#111" text-anchor="end" textLength="6.92" lengthAdjust="spacing" stroke="#111" stroke-width="0.2" >50</text>
<line x1="204.5" y1="266.7" x2="316.6" y2="266.7" stroke="#a0a0a0" stroke-width="0.65"/>
<line x1="194.5" y1="272.9" x2="204.5" y2="266.7" stroke="#a0a0a0" stroke-width="0.65"/>
<text transform="scale(0.52,1.0)" x="370.38" y="274.90" font-size="3.0" font-weight="bold" fill="#111" text-anchor="end" textLength="6.92" lengthAdjust="spacing" stroke="#111" stroke-width="0.2" >40</text>
<line x1="204.5" y1="275.2" x2="316.6" y2="275.2" stroke="#a0a0a0" stroke-width="0.65"/>
<line x1="194.5" y1="281.4" x2="204.5" y2="275.2" stroke="#a0a0a0" stroke-width="0.65"/>
<text transform="scale(0.52,1.0)" x="370.38" y="283.40" font-size="3.0" font-weight="bold" fill="#111" text-anchor="end" textLength="6.92" lengthAdjust="spacing" stroke="#111" stroke-width="0.2" >30</text>
<line x1="204.5" y1="283.7" x2="316.6" y2="283.7" stroke="#a0a0a0" stroke-width="0.65"/>
<line x1="194.5" y1="289.9" x2="204.5" y2="283.7" stroke="#a0a0a0" stroke-width="0.65"/>
<text transform="scale(0.52,1.0)" x="370.38" y="291.90" font-size="3.0" font-weight="bold" fill="#111" text-anchor="end" textLength="6.92" lengthAdjust="spacing" stroke="#111" stroke-width="0.2" >20</text>
<line x1="204.5" y1="292.2" x2="316.6" y2="292.2" stroke="#a0a0a0" stroke-width="0.65"/>
<line x1="194.5" y1="298.4" x2="204.5" y2="292.2" stroke="#a0a0a0" stroke-width="0.65"/>
<text transform="scale(0.52,1.0)" x="370.38" y="300.40" font-size="3.0" font-weight="bold" fill="#111" text-anchor="end" textLength="6.92" lengthAdjust="spacing" stroke="#111" stroke-width="0.2" >10</text>
<line x1="204.5" y1="300.7" x2="316.6" y2="300.7" stroke="#a0a0a0" stroke-width="0.65"/>
<line x1="194.5" y1="306.9" x2="204.5" y2="300.7" stroke="#a0a0a0" stroke-width="0.65"/>
<text transform="scale(0.52,1.0)" x="370.38" y="308.90" font-size="3.0" font-weight="bold" fill="#111" text-anchor="end" textLength="6.92" lengthAdjust="spacing" stroke="#111" stroke-width="0.2" >0</text>
<line x1="194.5" y1="230.39999999999998" x2="194.5" y2="306.9" stroke="#888" stroke-width="0.6"/>
<line x1="194.0" y1="306.9" x2="306.6" y2="306.9" stroke="#666" stroke-width="0.6"/>
<g transform="rotate(-90 182.6 264.8)"><text transform="scale(0.75,1.0)" x="243.47" y="264.80" font-size="2.8" font-weight="bold" fill="#111" text-anchor="middle" textLength="34.00" lengthAdjust="spacing" stroke="#111" stroke-width="0.2" >Volumen (TEUs)</text></g>
<rect x="212.2" y="235.4" width="2.1" height="2.2" fill="#2aa6e8" stroke="#0a3a5a" stroke-width="0.4"/>
<text transform="scale(0.52,1.0)" x="414.04" y="237.90" font-size="3.0" font-weight="normal" fill="#111" text-anchor="start" textLength="43.27" lengthAdjust="spacing" stroke="#111" stroke-width="0.15" >ENAPU Callao</text>
<rect x="244.0" y="235.4" width="2.1" height="2.2" fill="#b04a3a" stroke="#3a0a0a" stroke-width="0.4"/>
<text transform="scale(0.52,1.0)" x="475.00" y="237.90" font-size="3.0" font-weight="normal" fill="#111" text-anchor="start" textLength="29.81" lengthAdjust="spacing" stroke="#111" stroke-width="0.15" >DP World</text>
<polygon points="205.3,303.0 209.10000000000002,300.0 219.60000000000002,300.0 215.8,303.0" fill="#2a8cc4" stroke="#0a2a40" stroke-width="0.45"/>
<polygon points="215.8,303.0 219.60000000000002,300.0 219.60000000000002,301.2 215.8,304.2" fill="#1e6a94" stroke="#0a2a40" stroke-width="0.45"/>
<rect x="205.3" y="303.0" width="10.5" height="1.1999999999999886" fill="#3cb4f0" stroke="#0a2a40" stroke-width="0.45"/>
<polygon points="215.8,303.0 219.60000000000002,300.0 231.4,300.0 227.6,303.0" fill="#8a3c30" stroke="#3a1008" stroke-width="0.45"/>
<polygon points="227.6,303.0 231.4,300.0 231.4,301.2 227.6,304.2" fill="#6e2e24" stroke="#3a1008" stroke-width="0.45"/>
<rect x="215.8" y="303.0" width="11.799999999999983" height="1.1999999999999886" fill="#b35545" stroke="#3a1008" stroke-width="0.45"/>
<polygon points="243.3,286.9 247.10000000000002,283.9 257.2,283.9 253.4,286.9" fill="#2a8cc4" stroke="#0a2a40" stroke-width="0.45"/>
<polygon points="253.4,286.9 257.2,283.9 257.2,301.2 253.4,304.2" fill="#1e6a94" stroke="#0a2a40" stroke-width="0.45"/>
<rect x="243.3" y="286.9" width="10.099999999999994" height="17.30000000000001" fill="#3cb4f0" stroke="#0a2a40" stroke-width="0.45"/>
<polygon points="253.4,289.7 257.2,286.7 268.3,286.7 264.5,289.7" fill="#8a3c30" stroke="#3a1008" stroke-width="0.45"/>
<polygon points="264.5,289.7 268.3,286.7 268.3,301.2 264.5,304.2" fill="#6e2e24" stroke="#3a1008" stroke-width="0.45"/>
<rect x="253.4" y="289.7" width="11.099999999999994" height="14.5" fill="#b35545" stroke="#3a1008" stroke-width="0.45"/>
<polygon points="280.4,256.8 284.2,253.8 295.3,253.8 291.5,256.8" fill="#2a8cc4" stroke="#0a2a40" stroke-width="0.45"/>
<polygon points="291.5,256.8 295.3,253.8 295.3,301.2 291.5,304.2" fill="#1e6a94" stroke="#0a2a40" stroke-width="0.45"/>
<rect x="280.4" y="256.8" width="11.100000000000023" height="47.39999999999998" fill="#3cb4f0" stroke="#0a2a40" stroke-width="0.45"/>
<polygon points="291.5,265.2 295.3,262.2 306.5,262.2 302.7,265.2" fill="#8a3c30" stroke="#3a1008" stroke-width="0.45"/>
<polygon points="302.7,265.2 306.5,262.2 306.5,301.2 302.7,304.2" fill="#6e2e24" stroke="#3a1008" stroke-width="0.45"/>
<rect x="291.5" y="265.2" width="11.199999999999989" height="39.0" fill="#b35545" stroke="#3a1008" stroke-width="0.45"/>
<text transform="scale(0.52,1.0)" x="413.85" y="298.60" font-size="2.8" font-weight="bold" fill="#111" text-anchor="middle" textLength="3.08" lengthAdjust="spacing" stroke="#111" stroke-width="0.2" >1</text>
<text transform="scale(0.52,1.0)" x="434.62" y="296.60" font-size="2.8" font-weight="bold" fill="#111" text-anchor="middle" textLength="3.08" lengthAdjust="spacing" stroke="#111" stroke-width="0.2" >1</text>
<text transform="scale(0.52,1.0)" x="483.08" y="281.60" font-size="2.8" font-weight="bold" fill="#111" text-anchor="middle" textLength="6.15" lengthAdjust="spacing" stroke="#111" stroke-width="0.2" >34</text>
<text transform="scale(0.52,1.0)" x="507.31" y="283.20" font-size="2.8" font-weight="bold" fill="#111" text-anchor="middle" textLength="6.15" lengthAdjust="spacing" stroke="#111" stroke-width="0.2" >33</text>
<text transform="scale(0.52,1.0)" x="555.19" y="249.40" font-size="2.8" font-weight="bold" fill="#111" text-anchor="middle" textLength="6.15" lengthAdjust="spacing" stroke="#111" stroke-width="0.2" >68</text>
<text transform="scale(0.52,1.0)" x="579.81" y="258.90" font-size="2.8" font-weight="bold" fill="#111" text-anchor="middle" textLength="6.15" lengthAdjust="spacing" stroke="#111" stroke-width="0.2" >57</text>
<text transform="scale(0.52,1.0)" x="404.23" y="288.60" font-size="2.8" font-weight="bold" fill="#111" text-anchor="middle" textLength="5.38" lengthAdjust="spacing" stroke="#111" stroke-width="0.2" >20</text>
<text transform="scale(0.52,1.0)" x="404.23" y="292.70" font-size="2.8" font-weight="bold" fill="#111" text-anchor="middle" textLength="12.50" lengthAdjust="spacing" stroke="#111" stroke-width="0.2" >TEUs</text>
<text transform="scale(0.52,1.0)" x="432.31" y="288.40" font-size="2.8" font-weight="bold" fill="#111" text-anchor="middle" textLength="5.38" lengthAdjust="spacing" stroke="#111" stroke-width="0.2" >22</text>
<text transform="scale(0.52,1.0)" x="432.31" y="292.50" font-size="2.8" font-weight="bold" fill="#111" text-anchor="middle" textLength="12.50" lengthAdjust="spacing" stroke="#111" stroke-width="0.2" >TEUs</text>
<text transform="scale(0.52,1.0)" x="475.96" y="270.20" font-size="2.8" font-weight="bold" fill="#111" text-anchor="middle" textLength="13.46" lengthAdjust="spacing" stroke="#111" stroke-width="0.2" >4,920</text>
<text transform="scale(0.52,1.0)" x="475.96" y="274.30" font-size="2.8" font-weight="bold" fill="#111" text-anchor="middle" textLength="12.50" lengthAdjust="spacing" stroke="#111" stroke-width="0.2" >TEUs</text>
<text transform="scale(0.52,1.0)" x="510.00" y="270.20" font-size="2.8" font-weight="bold" fill="#111" text-anchor="middle" textLength="13.46" lengthAdjust="spacing" stroke="#111" stroke-width="0.2" >4,605</text>
<text transform="scale(0.52,1.0)" x="510.00" y="274.30" font-size="2.8" font-weight="bold" fill="#111" text-anchor="middle" textLength="12.50" lengthAdjust="spacing" stroke="#111" stroke-width="0.2" >TEUs</text>
<text transform="scale(0.52,1.0)" x="558.65" y="237.20" font-size="2.8" font-weight="bold" fill="#111" text-anchor="middle" textLength="13.46" lengthAdjust="spacing" stroke="#111" stroke-width="0.2" >6,543</text>
<text transform="scale(0.52,1.0)" x="558.65" y="241.30" font-size="2.8" font-weight="bold" fill="#111" text-anchor="middle" textLength="12.50" lengthAdjust="spacing" stroke="#111" stroke-width="0.2" >TEUs</text>
<text transform="scale(0.52,1.0)" x="595.96" y="245.60" font-size="2.8" font-weight="bold" fill="#111" text-anchor="middle" textLength="13.46" lengthAdjust="spacing" stroke="#111" stroke-width="0.2" >6,093</text>
<text transform="scale(0.52,1.0)" x="595.96" y="249.70" font-size="2.8" font-weight="bold" fill="#111" text-anchor="middle" textLength="12.50" lengthAdjust="spacing" stroke="#111" stroke-width="0.2" >TEUs</text>
<text transform="scale(0.52,1.0)" x="409.62" y="312.80" font-size="2.8" font-weight="bold" fill="#111" text-anchor="middle" textLength="22.12" lengthAdjust="spacing" stroke="#111" stroke-width="0.2" >1. Fore</text>
<text transform="scale(0.52,1.0)" x="480.77" y="312.80" font-size="2.8" font-weight="bold" fill="#111" text-anchor="middle" textLength="25.00" lengthAdjust="spacing" stroke="#111" stroke-width="0.2" >Primario</text>
<text transform="scale(0.52,1.0)" x="480.77" y="317.00" font-size="2.8" font-weight="bold" fill="#111" text-anchor="middle" textLength="26.92" lengthAdjust="spacing" stroke="#111" stroke-width="0.2" >OPERACIÓN</text>
<text transform="scale(0.52,1.0)" x="553.85" y="312.80" font-size="2.8" font-weight="bold" fill="#111" text-anchor="middle" textLength="21.15" lengthAdjust="spacing" stroke="#111" stroke-width="0.2" >Sagrado</text>
<text transform="scale(0.75,1.0)" x="27.07" y="324.80" font-size="2.7" font-weight="bold" fill="#111" text-anchor="start" textLength="167.20" lengthAdjust="spacing" stroke="#111" stroke-width="0.18" >Fuente: Empresa Nacional de Puertos S.A. (ENAPU) y DP World Callao - Manual</text>
<text transform="scale(0.75,1.0)" x="27.07" y="329.60" font-size="2.7" font-weight="bold" fill="#111" text-anchor="start" textLength="109.33" lengthAdjust="spacing" stroke="#111" stroke-width="0.18" >Elaborado por el Área de Estadística - APN. Enero 2011.</text>
<text transform="scale(0.75,1.0)" x="244.27" y="325.40" font-size="2.7" font-weight="bold" fill="#111" text-anchor="start" textLength="163.73" lengthAdjust="spacing" stroke="#111" stroke-width="0.18" >Fuente: Empresa Nacional de Puertos S.A. (ENAPU) y DP World Callao - Manual</text>
<text transform="scale(0.75,1.0)" x="244.27" y="330.00" font-size="2.7" font-weight="bold" fill="#111" text-anchor="start" textLength="112.13" lengthAdjust="spacing" stroke="#111" stroke-width="0.18" >Elaborado por el Área de Estadística - APN. Enero 2011.</text>
<rect x="12.3" y="335.0" width="316.9" height="10.300000000000011" fill="none" stroke="#a8a8a8" stroke-width="0.9" />
<text transform="scale(0.45,1.0)" x="106.89" y="342.70" font-size="2.8" font-weight="bold" fill="#111" text-anchor="start" textLength="546.44" lengthAdjust="spacing" stroke="#111" stroke-width="0.16" >1.5 PERÚ: MOVIMIENTO DE NAVES PORTACONTENEDORES ATENDIDAS EN LOS TERMINALES PORTUARIOS DE ENAPU CALLAO Y DP WORLD</text>
<text transform="scale(0.8,1.0)" x="370.50" y="341.00" font-size="3.0" font-weight="bold" fill="#111" text-anchor="start" textLength="4.38" lengthAdjust="spacing" stroke="#111" stroke-width="0.1" >1/</text>
<rect x="12.3" y="348.5" width="317.9" height="97.69999999999999" fill="none" stroke="#808080" stroke-width="1.0" />
<line x1="42.1" y1="355.1" x2="325.6" y2="355.1" stroke="#a0a0a0" stroke-width="0.65"/>
<text transform="scale(0.52,1.0)" x="72.31" y="357.10" font-size="3.0" font-weight="bold" fill="#111" text-anchor="end" textLength="6.15" lengthAdjust="spacing" stroke="#111" stroke-width="0.2" >70</text>
<line x1="40.0" y1="355.1" x2="42.1" y2="355.1" stroke="#555" stroke-width="0.5"/>
<line x1="42.1" y1="365.14285714285717" x2="58.0" y2="365.14285714285717" stroke="#a0a0a0" stroke-width="0.65"/>
<line x1="110.5" y1="365.14285714285717" x2="325.6" y2="365.14285714285717" stroke="#a0a0a0" stroke-width="0.65"/>
<text transform="scale(0.52,1.0)" x="72.31" y="367.14" font-size="3.0" font-weight="bold" fill="#111" text-anchor="end" textLength="6.15" lengthAdjust="spacing" stroke="#111" stroke-width="0.2" >60</text>
<line x1="40.0" y1="365.14285714285717" x2="42.1" y2="365.14285714285717" stroke="#555" stroke-width="0.5"/>
<line x1="42.1" y1="375.1857142857143" x2="325.6" y2="375.1857142857143" stroke="#a0a0a0" stroke-width="0.65"/>
<text transform="scale(0.52,1.0)" x="72.31" y="377.19" font-size="3.0" font-weight="bold" fill="#111" text-anchor="end" textLength="6.15" lengthAdjust="spacing" stroke="#111" stroke-width="0.2" >50</text>
<line x1="40.0" y1="375.1857142857143" x2="42.1" y2="375.1857142857143" stroke="#555" stroke-width="0.5"/>
<line x1="42.1" y1="385.22857142857146" x2="325.6" y2="385.22857142857146" stroke="#a0a0a0" stroke-width="0.65"/>
<text transform="scale(0.52,1.0)" x="72.31" y="387.23" font-size="3.0" font-weight="bold" fill="#111" text-anchor="end" textLength="6.15" lengthAdjust="spacing" stroke="#111" stroke-width="0.2" >40</text>
<line x1="40.0" y1="385.22857142857146" x2="42.1" y2="385.22857142857146" stroke="#555" stroke-width="0.5"/>
<line x1="42.1" y1="395.27142857142854" x2="325.6" y2="395.27142857142854" stroke="#a0a0a0" stroke-width="0.65"/>
<text transform="scale(0.52,1.0)" x="72.31" y="397.27" font-size="3.0" font-weight="bold" fill="#111" text-anchor="end" textLength="6.15" lengthAdjust="spacing" stroke="#111" stroke-width="0.2" >30</text>
<line x1="40.0" y1="395.27142857142854" x2="42.1" y2="395.27142857142854" stroke="#555" stroke-width="0.5"/>
<line x1="42.1" y1="405.3142857142857" x2="325.6" y2="405.3142857142857" stroke="#a0a0a0" stroke-width="0.65"/>
<text transform="scale(0.52,1.0)" x="72.31" y="407.31" font-size="3.0" font-weight="bold" fill="#111" text-anchor="end" textLength="6.15" lengthAdjust="spacing" stroke="#111" stroke-width="0.2" >20</text>
<line x1="40.0" y1="405.3142857142857" x2="42.1" y2="405.3142857142857" stroke="#555" stroke-width="0.5"/>
<line x1="42.1" y1="415.35714285714283" x2="325.6" y2="415.35714285714283" stroke="#a0a0a0" stroke-width="0.65"/>
<text transform="scale(0.52,1.0)" x="72.31" y="417.36" font-size="3.0" font-weight="bold" fill="#111" text-anchor="end" textLength="6.15" lengthAdjust="spacing" stroke="#111" stroke-width="0.2" >10</text>
<line x1="40.0" y1="415.35714285714283" x2="42.1" y2="415.35714285714283" stroke="#555" stroke-width="0.5"/>
<line x1="42.1" y1="425.4" x2="325.6" y2="425.4" stroke="#a0a0a0" stroke-width="0.65"/>
<text transform="scale(0.52,1.0)" x="72.31" y="427.40" font-size="3.0" font-weight="bold" fill="#111" text-anchor="end" textLength="6.15" lengthAdjust="spacing" stroke="#111" stroke-width="0.2" >0</text>
<line x1="40.0" y1="425.4" x2="42.1" y2="425.4" stroke="#555" stroke-width="0.5"/>
<line x1="42.1" y1="355.1" x2="42.1" y2="425.4" stroke="#555" stroke-width="0.6"/>
<line x1="325.6" y1="355.1" x2="325.6" y2="425.4" stroke="#bbb" stroke-width="0.5"/>
<g transform="rotate(-90 25.9 392.3)"><text transform="scale(0.75,1.0)" x="34.53" y="392.30" font-size="2.8" font-weight="bold" fill="#111" text-anchor="middle" textLength="46.40" lengthAdjust="spacing" stroke="#111" stroke-width="0.2" >Cantidad de Naves</text></g>
<rect x="60.4" y="368.5" width="2.6" height="2.5" fill="#33bbff" stroke="#0a2a50" stroke-width="0.45"/>
<text transform="scale(0.52,1.0)" x="123.85" y="371.30" font-size="3.0" font-weight="normal" fill="#111" text-anchor="start" textLength="39.42" lengthAdjust="spacing" stroke="#111" stroke-width="0.15" >ENAPU Callao</text>
<rect x="89.2" y="368.5" width="2.6" height="2.5" fill="#b35545" stroke="#3a1008" stroke-width="0.45"/>
<text transform="scale(0.52,1.0)" x="179.04" y="371.30" font-size="3.0" font-weight="normal" fill="#111" text-anchor="start" textLength="26.73" lengthAdjust="spacing" stroke="#111" stroke-width="0.15" >DP World</text>
<rect x="47.1" y="383.2" width="7.0" height="42.19999999999999" fill="#36b8f8" stroke="#0a3050" stroke-width="0.6"/>
<rect x="70.65" y="383.2" width="7.0" height="42.19999999999999" fill="#36b8f8" stroke="#0a3050" stroke-width="0.6"/>
<rect x="94.2" y="380.2" width="7.0" height="45.19999999999999" fill="#36b8f8" stroke="#0a3050" stroke-width="0.6"/>
<rect x="117.75" y="376.5" width="7.0" height="48.89999999999998" fill="#36b8f8" stroke="#0a3050" stroke-width="0.6"/>
<rect x="141.3" y="374.1" width="7.0" height="51.299999999999955" fill="#36b8f8" stroke="#0a3050" stroke-width="0.6"/>
<rect x="148.3" y="408.3" width="7.0" height="17.099999999999966" fill="#b35545" stroke="#3a120a" stroke-width="0.6"/>
<rect x="164.85" y="373.2" width="7.0" height="52.19999999999999" fill="#36b8f8" stroke="#0a3050" stroke-width="0.6"/>
<rect x="171.85" y="375.2" width="7.0" height="50.19999999999999" fill="#b35545" stroke="#3a120a" stroke-width="0.6"/>
<rect x="188.4" y="372.0" width="7.0" height="53.39999999999998" fill="#36b8f8" stroke="#0a3050" stroke-width="0.6"/>
<rect x="195.4" y="388.3" width="7.0" height="37.099999999999966" fill="#b35545" stroke="#3a120a" stroke-width="0.6"/>
<rect x="211.95" y="370.2" width="7.0" height="55.19999999999999" fill="#36b8f8" stroke="#0a3050" stroke-width="0.6"/>
<rect x="218.95" y="380.5" width="7.0" height="44.89999999999998" fill="#b35545" stroke="#3a120a" stroke-width="0.6"/>
<rect x="235.5" y="370.2" width="7.0" height="55.19999999999999" fill="#36b8f8" stroke="#0a3050" stroke-width="0.6"/>
<rect x="242.5" y="380.8" width="7.0" height="44.599999999999966" fill="#b35545" stroke="#3a120a" stroke-width="0.6"/>
<rect x="259.05" y="369.1" width="7.0" height="56.299999999999955" fill="#36b8f8" stroke="#0a3050" stroke-width="0.6"/>
<rect x="266.05" y="379.2" width="7.0" height="46.19999999999999" fill="#b35545" stroke="#3a120a" stroke-width="0.6"/>
<rect x="282.6" y="365.3" width="7.0" height="60.099999999999966" fill="#36b8f8" stroke="#0a3050" stroke-width="0.6"/>
<rect x="289.6" y="367.4" width="7.0" height="58.0" fill="#b35545" stroke="#3a120a" stroke-width="0.6"/>
<rect x="306.15000000000003" y="367.3" width="7.0" height="58.099999999999966" fill="#36b8f8" stroke="#0a3050" stroke-width="0.6"/>
<rect x="313.15000000000003" y="372.1" width="7.0" height="53.299999999999955" fill="#b35545" stroke="#3a120a" stroke-width="0.6"/>
<line x1="42.1" y1="425.4" x2="325.6" y2="425.4" stroke="#777" stroke-width="0.5"/>
<line x1="14.2" y1="431.4" x2="325.6" y2="431.4" stroke="#888" stroke-width="0.5"/>
<line x1="14.2" y1="437.3" x2="325.6" y2="437.3" stroke="#888" stroke-width="0.5"/>
<line x1="14.2" y1="442.8" x2="325.6" y2="442.8" stroke="#888" stroke-width="0.5"/>
<line x1="14.2" y1="431.4" x2="14.2" y2="442.8" stroke="#888" stroke-width="0.5"/>
<line x1="42.1" y1="425.4" x2="42.1" y2="442.8" stroke="#888" stroke-width="0.5"/>
<line x1="65.725" y1="425.4" x2="65.725" y2="442.8" stroke="#888" stroke-width="0.5"/>
<line x1="89.35" y1="425.4" x2="89.35" y2="442.8" stroke="#888" stroke-width="0.5"/>
<line x1="112.975" y1="425.4" x2="112.975" y2="442.8" stroke="#888" stroke-width="0.5"/>
<line x1="136.6" y1="425.4" x2="136.6" y2="442.8" stroke="#888" stroke-width="0.5"/>
<line x1="160.225" y1="425.4" x2="160.225" y2="442.8" stroke="#888" stroke-width="0.5"/>
<line x1="183.85" y1="425.4" x2="183.85" y2="442.8" stroke="#888" stroke-width="0.5"/>
<line x1="207.475" y1="425.4" x2="207.475" y2="442.8" stroke="#888" stroke-width="0.5"/>
<line x1="231.1" y1="425.4" x2="231.1" y2="442.8" stroke="#888" stroke-width="0.5"/>
<line x1="254.725" y1="425.4" x2="254.725" y2="442.8" stroke="#888" stroke-width="0.5"/>
<line x1="278.35" y1="425.4" x2="278.35" y2="442.8" stroke="#888" stroke-width="0.5"/>
<line x1="301.975" y1="425.4" x2="301.975" y2="442.8" stroke="#888" stroke-width="0.5"/>
<line x1="325.6" y1="425.4" x2="325.6" y2="442.8" stroke="#888" stroke-width="0.5"/>
<text transform="scale(0.6,1.0)" x="89.85" y="430.60" font-size="2.6" font-weight="bold" fill="#111" text-anchor="middle" textLength="17.50" lengthAdjust="spacing" stroke="#111" stroke-width="0.3" >enero</text>
<text transform="scale(0.52,1.0)" x="103.68" y="436.30" font-size="2.8" font-weight="bold" fill="#111" text-anchor="middle" textLength="8.85" lengthAdjust="spacing" stroke="#111" stroke-width="0.2" >40</text>
<text transform="scale(0.6,1.0)" x="129.23" y="430.60" font-size="2.6" font-weight="bold" fill="#111" text-anchor="middle" textLength="17.50" lengthAdjust="spacing" stroke="#111" stroke-width="0.3" >febrero</text>
<text transform="scale(0.52,1.0)" x="149.11" y="436.30" font-size="2.8" font-weight="bold" fill="#111" text-anchor="middle" textLength="8.85" lengthAdjust="spacing" stroke="#111" stroke-width="0.2" >40</text>
<text transform="scale(0.6,1.0)" x="168.60" y="430.60" font-size="2.6" font-weight="bold" fill="#111" text-anchor="middle" textLength="17.50" lengthAdjust="spacing" stroke="#111" stroke-width="0.3" >marzo</text>
<text transform="scale(0.52,1.0)" x="194.54" y="436.30" font-size="2.8" font-weight="bold" fill="#111" text-anchor="middle" textLength="8.85" lengthAdjust="spacing" stroke="#111" stroke-width="0.2" >42</text>
<text transform="scale(0.6,1.0)" x="207.98" y="430.60" font-size="2.6" font-weight="bold" fill="#111" text-anchor="middle" textLength="17.50" lengthAdjust="spacing" stroke="#111" stroke-width="0.3" >abril</text>
<text transform="scale(0.52,1.0)" x="239.98" y="436.30" font-size="2.8" font-weight="bold" fill="#111" text-anchor="middle" textLength="8.85" lengthAdjust="spacing" stroke="#111" stroke-width="0.2" >46</text>
<text transform="scale(0.6,1.0)" x="247.35" y="430.60" font-size="2.6" font-weight="bold" fill="#111" text-anchor="middle" textLength="17.50" lengthAdjust="spacing" stroke="#111" stroke-width="0.3" >mayo</text>
<text transform="scale(0.52,1.0)" x="285.41" y="436.30" font-size="2.8" font-weight="bold" fill="#111" text-anchor="middle" textLength="8.85" lengthAdjust="spacing" stroke="#111" stroke-width="0.2" >47</text>
<text transform="scale(0.52,1.0)" x="285.41" y="441.30" font-size="2.8" font-weight="bold" fill="#111" text-anchor="middle" textLength="8.85" lengthAdjust="spacing" stroke="#111" stroke-width="0.2" >17</text>
<text transform="scale(0.6,1.0)" x="286.73" y="430.60" font-size="2.6" font-weight="bold" fill="#111" text-anchor="middle" textLength="17.50" lengthAdjust="spacing" stroke="#111" stroke-width="0.3" >junio</text>
<text transform="scale(0.52,1.0)" x="330.84" y="436.30" font-size="2.8" font-weight="bold" fill="#111" text-anchor="middle" textLength="8.85" lengthAdjust="spacing" stroke="#111" stroke-width="0.2" >48</text>
<text transform="scale(0.52,1.0)" x="330.84" y="441.30" font-size="2.8" font-weight="bold" fill="#111" text-anchor="middle" textLength="8.85" lengthAdjust="spacing" stroke="#111" stroke-width="0.2" >48</text>
<text transform="scale(0.6,1.0)" x="326.10" y="430.60" font-size="2.6" font-weight="bold" fill="#111" text-anchor="middle" textLength="17.50" lengthAdjust="spacing" stroke="#111" stroke-width="0.3" >julio</text>
<text transform="scale(0.52,1.0)" x="376.27" y="436.30" font-size="2.8" font-weight="bold" fill="#111" text-anchor="middle" textLength="8.85" lengthAdjust="spacing" stroke="#111" stroke-width="0.2" >49</text>
<text transform="scale(0.52,1.0)" x="376.27" y="441.30" font-size="2.8" font-weight="bold" fill="#111" text-anchor="middle" textLength="8.85" lengthAdjust="spacing" stroke="#111" stroke-width="0.2" >36</text>
<text transform="scale(0.6,1.0)" x="365.48" y="430.60" font-size="2.6" font-weight="bold" fill="#111" text-anchor="middle" textLength="17.50" lengthAdjust="spacing" stroke="#111" stroke-width="0.3" >agosto</text>
<text transform="scale(0.52,1.0)" x="421.71" y="436.30" font-size="2.8" font-weight="bold" fill="#111" text-anchor="middle" textLength="8.85" lengthAdjust="spacing" stroke="#111" stroke-width="0.2" >51</text>
<text transform="scale(0.52,1.0)" x="421.71" y="441.30" font-size="2.8" font-weight="bold" fill="#111" text-anchor="middle" textLength="8.85" lengthAdjust="spacing" stroke="#111" stroke-width="0.2" >43</text>
<text transform="scale(0.6,1.0)" x="404.85" y="430.60" font-size="2.6" font-weight="bold" fill="#111" text-anchor="middle" textLength="17.50" lengthAdjust="spacing" stroke="#111" stroke-width="0.3" >septiem.</text>
<text transform="scale(0.52,1.0)" x="467.14" y="436.30" font-size="2.8" font-weight="bold" fill="#111" text-anchor="middle" textLength="8.85" lengthAdjust="spacing" stroke="#111" stroke-width="0.2" >51</text>
<text transform="scale(0.52,1.0)" x="467.14" y="441.30" font-size="2.8" font-weight="bold" fill="#111" text-anchor="middle" textLength="8.85" lengthAdjust="spacing" stroke="#111" stroke-width="0.2" >43</text>
<text transform="scale(0.6,1.0)" x="444.23" y="430.60" font-size="2.6" font-weight="bold" fill="#111" text-anchor="middle" textLength="17.50" lengthAdjust="spacing" stroke="#111" stroke-width="0.3" >octubre</text>
<text transform="scale(0.52,1.0)" x="512.57" y="436.30" font-size="2.8" font-weight="bold" fill="#111" text-anchor="middle" textLength="8.85" lengthAdjust="spacing" stroke="#111" stroke-width="0.2" >52</text>
<text transform="scale(0.52,1.0)" x="512.57" y="441.30" font-size="2.8" font-weight="bold" fill="#111" text-anchor="middle" textLength="8.85" lengthAdjust="spacing" stroke="#111" stroke-width="0.2" >44</text>
<text transform="scale(0.6,1.0)" x="483.60" y="430.60" font-size="2.6" font-weight="bold" fill="#111" text-anchor="middle" textLength="17.50" lengthAdjust="spacing" stroke="#111" stroke-width="0.3" >noviem.</text>
<text transform="scale(0.52,1.0)" x="558.00" y="436.30" font-size="2.8" font-weight="bold" fill="#111" text-anchor="middle" textLength="8.85" lengthAdjust="spacing" stroke="#111" stroke-width="0.2" >56</text>
<text transform="scale(0.52,1.0)" x="558.00" y="441.30" font-size="2.8" font-weight="bold" fill="#111" text-anchor="middle" textLength="8.85" lengthAdjust="spacing" stroke="#111" stroke-width="0.2" >54</text>
<text transform="scale(0.6,1.0)" x="522.98" y="430.60" font-size="2.6" font-weight="bold" fill="#111" text-anchor="middle" textLength="17.50" lengthAdjust="spacing" stroke="#111" stroke-width="0.3" >diciem.</text>
<text transform="scale(0.52,1.0)" x="603.44" y="436.30" font-size="2.8" font-weight="bold" fill="#111" text-anchor="middle" textLength="8.85" lengthAdjust="spacing" stroke="#111" stroke-width="0.2" >54</text>
<text transform="scale(0.52,1.0)" x="603.44" y="441.30" font-size="2.8" font-weight="bold" fill="#111" text-anchor="middle" textLength="8.85" lengthAdjust="spacing" stroke="#111" stroke-width="0.2" >50</text>
<rect x="14.9" y="432.7" width="2.3" height="2.2" fill="#33bbff" stroke="#0a2a50" stroke-width="0.4"/>
<text transform="scale(0.52,1.0)" x="36.54" y="435.90" font-size="2.8" font-weight="normal" fill="#111" text-anchor="start" textLength="42.88" lengthAdjust="spacing" stroke="#111" stroke-width="0.15" >ENAPU Callao</text>
<rect x="14.9" y="438.3" width="2.3" height="2.2" fill="#b35545" stroke="#3a1008" stroke-width="0.4"/>
<text transform="scale(0.52,1.0)" x="36.54" y="441.20" font-size="2.8" font-weight="normal" fill="#111" text-anchor="start" textLength="27.12" lengthAdjust="spacing" stroke="#111" stroke-width="0.15" >DP World</text>
<text transform="scale(0.52,1.0)" x="65.96" y="439.60" font-size="2.6" font-weight="bold" fill="#111" text-anchor="start" textLength="4.42" lengthAdjust="spacing" stroke="#111" stroke-width="0.2" >1/</text>
<text transform="scale(0.7,1.0)" x="26.00" y="453.00" font-size="2.7" font-weight="bold" fill="#111" text-anchor="start" textLength="177.71" lengthAdjust="spacing" stroke="#111" stroke-width="0.06" >Fuente: Empresa Nacional de Puertos S.A. (ENAPU) y DP World Callao - Manual</text>
<text transform="scale(0.7,1.0)" x="25.29" y="457.00" font-size="2.7" font-weight="bold" fill="#111" text-anchor="start" textLength="120.00" lengthAdjust="spacing" stroke="#111" stroke-width="0.06" >Elaborado por el Área de Estadística - APN. Enero 2011.</text>
<text transform="scale(0.7,1.0)" x="32.71" y="461.20" font-size="2.7" font-weight="bold" fill="#111" text-anchor="start" textLength="233.00" lengthAdjust="spacing" stroke="#111" stroke-width="0.06" >1/ El 1 de junio de 2010 DP World inició sus operaciones en el Muelle Sur con grúas pórticos.</text>
<text transform="scale(0.7,1.0)" x="34.29" y="465.60" font-size="2.7" font-weight="bold" fill="#111" text-anchor="start" textLength="336.71" lengthAdjust="spacing" stroke="#111" stroke-width="0.06" >1/ En el Muelle Sur se atienden las naves portacontenedores; las operaciones se realizan con grúas pórticos a partir del Muelle Sur</text>
</svg></body></html>
